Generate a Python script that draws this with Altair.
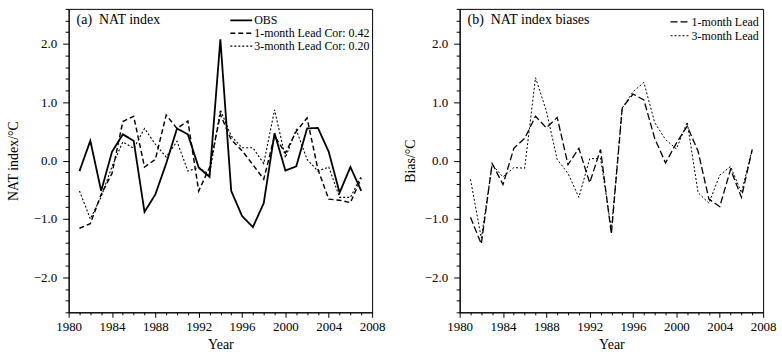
import altair as alt
import pandas as pd

years = list(range(1981, 2008))

# Panel (a): NAT index
obs = [-0.18, 0.34, -0.52, 0.15, 0.45, 0.34, -0.88, -0.58, -0.05, 0.55, 0.45, -0.12, -0.28, 2.08,
       -0.52, -0.95, -1.14, -0.73, 0.47, -0.17, -0.10, 0.55, 0.56, 0.15, -0.55, -0.11, -0.52]
lead1 = [-1.16, -1.08, -0.58, -0.22, 0.67, 0.76, -0.11, 0.02, 0.78, 0.55, 0.68, -0.52, -0.12, 0.79,
         0.36, 0.17, -0.07, -0.32, 0.42, 0.13, 0.50, 0.73, -0.15, -0.66, -0.68, -0.72, -0.30]
lead3 = [-0.52, -1.00, -0.62, -0.10, 0.32, 0.21, 0.55, 0.28, 0.06, 0.33, -0.18, -0.12, -0.24, 0.87,
         0.42, 0.22, 0.22, -0.05, 0.87, 0.05, 0.53, 0.02, -0.18, -0.11, -0.63, -0.63, -0.27]

# Panel (b): biases
bias1 = [-0.97, -1.43, -0.05, -0.41, 0.21, 0.38, 0.76, 0.56, 0.74, -0.07, 0.21, -0.38, 0.19, -1.26,
         0.90, 1.14, 1.04, 0.38, -0.04, 0.30, 0.59, 0.16, -0.66, -0.79, -0.15, -0.63, 0.19]
bias3 = [-0.32, -1.33, -0.07, -0.28, -0.12, -0.13, 1.42, 0.85, 0.02, -0.22, -0.63, 0.03, 0.04, -1.18,
         0.90, 1.18, 1.34, 0.65, 0.36, 0.20, 0.66, -0.55, -0.73, -0.25, -0.10, -0.55, 0.20]

names_a = ["OBS", "1-month Lead Cor: 0.42", "3-month Lead Cor: 0.20"]
names_b = ["1-month Lead", "3-month Lead"]
title_a = "(a)\u00a0\u00a0NAT index"
title_b = "(b)\u00a0\u00a0NAT index biases"

df_a = pd.DataFrame({
    "year": years * 3,
    "value": obs + lead1 + lead3,
    "series": [names_a[0]] * len(years) + [names_a[1]] * len(years) + [names_a[2]] * len(years),
})
df_b = pd.DataFrame({
    "year": years * 2,
    "value": bias1 + bias3,
    "series": [names_b[0]] * len(years) + [names_b[1]] * len(years),
})

FONT = "Liberation Serif"
W = 305
H = 305

x_ticks = list(range(1980, 2009))
y_ticks = [round(-2.6 + 0.2 * i, 1) for i in range(27)]

def x_axis():
    return alt.Axis(
        values=x_ticks, format="d",
        labelExpr="datum.value % 4 === 0 ? datum.label : ''",
        tickSize={"condition": {"test": "datum.value % 4 === 0", "value": 5}, "value": 2.5},
        title="Year", grid=False, labelFlush=False, labelPadding=3,
        titleFontWeight="normal",
    )

def y_axis(title, tpad):
    return alt.Axis(
        values=y_ticks, format=".1f",
        labelExpr="abs(datum.value - round(datum.value)) < 0.01 ? datum.label : ''",
        tickSize={"condition": {"test": "abs(datum.value - round(datum.value)) < 0.01", "value": 6},
                  "value": 3.5},
        title=title, grid=False, labelPadding=6, titlePadding=tpad,
        titleFontWeight="normal",
    )

def legend(lx, ly, path, size, offset, rpad):
    return alt.Legend(title=None, orient="none", legendX=lx, legendY=ly,
                      symbolType=path, symbolSize=size, symbolStrokeColor="black",
                      symbolFillColor="transparent",
                      labelFont=FONT, labelFontSize=12, labelColor="black",
                      rowPadding=rpad, labelOffset=offset, padding=0)

def panel(df, names, dashes, widths, ytitle, tpad, title, lx, ly, size, offset, rpad):
    lg = legend(lx, ly, "M-2,0H2", size, offset, rpad)
    lines = alt.Chart(df).mark_line(color="black").encode(
        x=alt.X("year:Q", scale=alt.Scale(domain=[1980, 2008], nice=False, zero=False), axis=x_axis()),
        y=alt.Y("value:Q", scale=alt.Scale(domain=[-2.6, 2.6], nice=False), axis=y_axis(ytitle, tpad)),
        strokeDash=alt.StrokeDash("series:N", scale=alt.Scale(domain=names, range=dashes), legend=lg),
        strokeWidth=alt.StrokeWidth("series:N", scale=alt.Scale(domain=names, range=widths), legend=lg),
    )
    label = alt.Chart(pd.DataFrame({"t": [title]})).mark_text(
        font=FONT, fontSize=14, align="left", baseline="middle", color="black"
    ).encode(x=alt.value(8), y=alt.value(11), text="t:N")
    return alt.layer(lines, label).properties(width=W, height=H)

left = panel(df_a, names_a, [[1, 0], [5, 3], [2, 2]], [1.8, 1.1, 1.0],
             "NAT index/\u00b0C", 13, title_a, 167, 5, 121, 6.5, 0)
right = panel(df_b, names_b, [[7, 3], [2, 2]], [1.3, 1.0],
              "Bias/\u00b0C", 7, title_b, 216, 7, 100, 5, 2)

chart = alt.hconcat(left, right, spacing=16).resolve_scale(
    strokeDash="independent", strokeWidth="independent"
).resolve_legend(strokeDash="independent", strokeWidth="independent").properties(
    padding={"left": 5, "top": 7, "right": 5, "bottom": 2}, background="white"
).configure_view(stroke="black", strokeWidth=1).configure_axis(
    labelFont=FONT, labelFontSize=13, labelColor="black",
    titleFont=FONT, titleFontSize=14, titleFontWeight="normal", titleColor="black",
    domainColor="black", tickColor="black", domainWidth=1, tickWidth=1,
)

chart.save("out.html", embed_options={"renderer": "svg", "actions": False})
